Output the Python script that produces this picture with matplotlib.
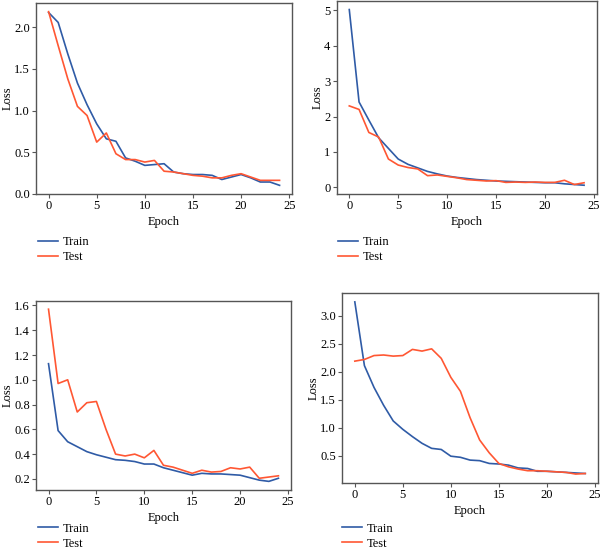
import matplotlib
matplotlib.use("Agg")
import matplotlib.pyplot as plt
from matplotlib.ticker import MultipleLocator
import numpy as np

plt.rcParams['font.family'] = ['Liberation Serif', 'DejaVu Serif']
plt.rcParams['font.size'] = 9

epochs = np.arange(25)

# panel a
train_a = [2.18, 2.06, 1.68, 1.33, 1.07, 0.84, 0.66, 0.63, 0.43, 0.39, 0.34, 0.35, 0.36,
           0.26, 0.24, 0.23, 0.23, 0.22, 0.17, 0.20, 0.23, 0.19, 0.14, 0.14, 0.10]
test_a = [2.19, 1.78, 1.38, 1.05, 0.94, 0.62, 0.73, 0.48, 0.41, 0.41, 0.38, 0.40, 0.27,
          0.26, 0.24, 0.22, 0.21, 0.19, 0.19, 0.22, 0.24, 0.20, 0.16, 0.16, 0.16]

# panel b
train_b = [5.02, 2.41, 1.90, 1.40, 1.10, 0.80, 0.65, 0.55, 0.45, 0.38, 0.32, 0.28, 0.25,
           0.22, 0.20, 0.18, 0.17, 0.16, 0.15, 0.14, 0.13, 0.13, 0.10, 0.08, 0.06]
test_b = [2.30, 2.20, 1.55, 1.42, 0.80, 0.63, 0.56, 0.52, 0.33, 0.35, 0.31, 0.27, 0.22,
          0.20, 0.18, 0.19, 0.14, 0.15, 0.14, 0.15, 0.14, 0.14, 0.20, 0.08, 0.13]

# panel c
train_c = [1.13, 0.59, 0.50, 0.46, 0.42, 0.395, 0.375, 0.355, 0.35, 0.34, 0.32, 0.32, 0.29,
           0.27, 0.25, 0.23, 0.245, 0.24, 0.24, 0.235, 0.23, 0.21, 0.19, 0.18, 0.205]
test_c = [1.57, 0.97, 1.00, 0.74, 0.815, 0.825, 0.60, 0.40, 0.385, 0.40, 0.37, 0.43, 0.31,
          0.295, 0.27, 0.245, 0.27, 0.255, 0.26, 0.29, 0.28, 0.295, 0.205, 0.215, 0.225]

# panel d
train_d = [3.25, 2.11, 1.72, 1.40, 1.12, 0.97, 0.84, 0.72, 0.63, 0.61, 0.49, 0.47, 0.42,
           0.41, 0.36, 0.35, 0.33, 0.28, 0.27, 0.22, 0.22, 0.21, 0.20, 0.19, 0.18]
test_d = [2.19, 2.22, 2.29, 2.30, 2.28, 2.29, 2.40, 2.37, 2.41, 2.24, 1.90, 1.65, 1.18,
          0.78, 0.55, 0.36, 0.30, 0.26, 0.23, 0.23, 0.22, 0.21, 0.20, 0.17, 0.18]

panels = [(train_a, test_a), (train_b, test_b), (train_c, test_c), (train_d, test_d)]
ysteps = [0.5, 1, 0.2, 0.5]
# [left, bottom, width, height] for each axes, and legend anchor in figure coords
boxes = [[0.060, 0.6466, 0.426, 0.348],
         [0.560, 0.6466, 0.433, 0.352],
         [0.060, 0.1075, 0.424, 0.345],
         [0.5696, 0.1208, 0.425, 0.345]]
legend_pos = [(0.063, 0.570), (0.5625, 0.570), (0.063, 0.048), (0.569, 0.048)]

BLUE = '#2f5ba6'
RED = '#ff5733'
SPINE = '#555555'

fig = plt.figure(figsize=(6.01, 5.49), dpi=100)
for (train, test), step, box, lpos in zip(panels, ysteps, boxes, legend_pos):
    ax = fig.add_axes(box)
    ax.plot(epochs, train, color=BLUE, lw=1.2, label='Train')
    ax.plot(epochs, test, color=RED, lw=1.2, label='Test')
    ax.set_xticks([0, 5, 10, 15, 20, 25])
    ax.set_xlim(-1.3, 25.3)
    ax.yaxis.set_major_locator(MultipleLocator(step))
    ax.set_xlabel('Epoch', labelpad=3)
    ax.set_ylabel('Loss', labelpad=0.5)
    for s in ax.spines.values():
        s.set_color(SPINE)
        s.set_linewidth(1.0)
    ax.tick_params(direction='out', length=3, width=0.8, color=SPINE, pad=1.5)
    ax.legend(loc='upper left', bbox_to_anchor=lpos, bbox_transform=fig.transFigure,
              frameon=False, borderpad=0, handlelength=1.6, handletextpad=0.4,
              labelspacing=0.25, borderaxespad=0)

fig.savefig('out.png', dpi=100)
